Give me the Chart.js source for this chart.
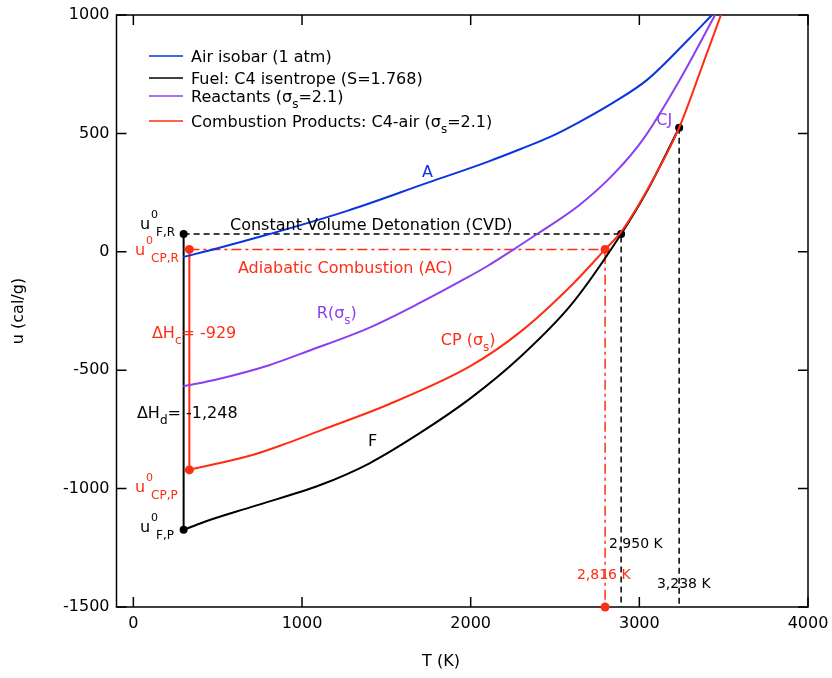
<!DOCTYPE html>
<html>
<head>
<meta charset="utf-8">
<script src="https://cdn.jsdelivr.net/npm/chart.js@4.4.0/dist/chart.umd.min.js"></script>
<style>
html, body { margin: 0; padding: 0; background: #fff; }
canvas { display: block; }
</style>
</head>
<body>
<canvas id="chart" width="832" height="678"></canvas>
<script>
// axis ticks
const xTicks = [0, 1000, 2000, 3000, 4000];
const yTicks = [-1500, -1000, -500, 0, 500, 1000];

// Air isobar (1 atm)
const airT = [296, 500, 812, 1268, 1742, 2100, 2300, 2471, 2649, 2850, 3046, 3301, 3430];
const airU = [-22, 15, 76, 173, 291, 380, 435, 485, 550, 632, 726, 904, 1000];

// Fuel: C4 isentrope
const fuelT = [298, 415, 711, 1108, 1400, 1700, 2000, 2300, 2600, 2892, 3050, 3236];
const fuelU = [-1174, -1142, -1075, -985, -893, -765, -618, -440, -220, 75, 262, 524];

// Reactants
const reacT = [296, 500, 800, 1033, 1400, 1701, 1956, 2100, 2276, 2394, 2649, 2850, 3022, 3241, 3449];
const reacU = [-568, -538, -480, -420, -320, -215, -118, -60, 20, 75, 200, 330, 475, 728, 1000];

// Combustion products
const prodT = [332, 711, 912, 1108, 1500, 2000, 2300, 2600, 2797, 2892, 3064, 3236, 3390, 3484];
const prodU = [-921, -857, -808, -755, -648, -482, -335, -140, 10, 84, 283, 524, 818, 1000];

// construction lines
const dHdT = [298, 298];         const dHdU = [75, -1174];
const dHcT = [332, 332];         const dHcU = [10, -921];
const cvdT = [298, 2892, 2892];  const cvdU = [75, 75, -1500];
const cjT = [3236, 3236];        const cjU = [524, -1500];
const acT = [332, 2797, 2797];   const acU = [10, 10, -1500];

// marked states
const blackDotT = [298, 298, 2892, 3236];
const blackDotU = [75, -1174, 75, 524];
const redDotT = [332, 332, 2797, 2797];
const redDotU = [10, -921, 10, -1500];

const BLUE = '#0b34e0';
const PURPLE = '#8c3ff0';
const RED = '#ff2d14';
const BLACK = '#000000';
const FONT = '"DejaVu Sans", sans-serif';

function pts(xs, ys) {
    return xs.map((x, i) => ({ x: x, y: ys[i] }));
}

function curve(xs, ys, color) {
    return {
        data: pts(xs, ys),
        showLine: true,
        borderColor: color,
        borderWidth: 2,
        pointRadius: 0,
        cubicInterpolationMode: 'monotone'
    };
}

function straight(xs, ys, color, dash, width) {
    return {
        data: pts(xs, ys),
        showLine: true,
        borderColor: color,
        borderWidth: width,
        borderDash: dash,
        pointRadius: 0
    };
}

function dots(xs, ys, color, r) {
    return {
        data: pts(xs, ys),
        showLine: false,
        pointRadius: r,
        pointBackgroundColor: color,
        pointBorderWidth: 0,
        clip: false
    };
}

// text drawn in the plot: anchored at (T, u), left / baseline
const notes = [
    { t: 1711, u: 316, color: BLUE, parts: [['A']] },
    { t: 3100, u: 535, color: PURPLE, parts: [['CJ']] },
    { t: 573, u: 92, color: BLACK, parts: [['Constant Volume Detonation (CVD)']] },
    { t: 620, u: -90, color: RED, parts: [['Adiabatic Combustion (AC)']] },
    { t: 1088, u: -279, color: PURPLE, parts: [['R(σ'], ['s', 'sub'], [')']] },
    { t: 110, u: -364, color: RED, parts: [['ΔH'], ['c', 'sub'], ['= -929']] },
    { t: 1823, u: -393, color: RED, parts: [['CP (σ'], ['s', 'sub'], [')']] },
    { t: 21, u: -702, color: BLACK, parts: [['ΔH'], ['d', 'sub'], ['= -1,248']] },
    { t: 1391, u: -820, color: BLACK, parts: [['F']] },
    { t: 39, u: 96, color: BLACK, parts: [['u'], ['0', 'F,R', 'stack']] },
    { t: 9, u: -14, color: RED, parts: [['u'], ['0', 'CP,R', 'stack']] },
    { t: 9, u: -1015, color: RED, parts: [['u'], ['0', 'CP,P', 'stack']] },
    { t: 39, u: -1184, color: BLACK, parts: [['u'], ['0', 'F,P', 'stack']] },
    { t: 2820, u: -1251, color: BLACK, size: 14, parts: [['2,950 K']] },
    { t: 2630, u: -1382, color: RED, size: 14, parts: [['2,816 K']] },
    { t: 3104, u: -1420, color: BLACK, size: 14, parts: [['3,238 K']] }
];

const legendRows = [
    { color: BLUE, y: 56, parts: [['Air isobar (1 atm)']] },
    { color: BLACK, y: 78, parts: [['Fuel: C4 isentrope (S=1.768)']] },
    { color: PURPLE, y: 96, parts: [['Reactants (σ'], ['s', 'sub'], ['=2.1)']] },
    { color: RED, y: 121, parts: [['Combustion Products: C4-air (σ'], ['s', 'sub'], ['=2.1)']] }
];

function drawRich(ctx, x, y, parts, color, size) {
    size = size || 16;
    ctx.fillStyle = color;
    ctx.textAlign = 'left';
    ctx.textBaseline = 'alphabetic';
    let cx = x;
    parts.forEach(p => {
        if (p[1] === 'sub') {
            ctx.font = '12px ' + FONT;
            ctx.fillText(p[0], cx, y + 6);
            cx += ctx.measureText(p[0]).width;
        } else if (p[2] === 'stack') {
            ctx.font = '11px ' + FONT;
            ctx.fillText(p[0], cx + 1, y - 11);
            const w1 = ctx.measureText(p[0]).width + 1;
            ctx.font = '12px ' + FONT;
            ctx.fillText(p[1], cx + 6, y + 7);
            const w2 = ctx.measureText(p[1]).width + 6;
            cx += Math.max(w1, w2);
        } else {
            ctx.font = size + 'px ' + FONT;
            ctx.fillText(p[0], cx, y);
            cx += ctx.measureText(p[0]).width;
        }
    });
}

const frame = {
    id: 'frame',
    beforeDatasetsDraw(chart) {
        const ctx = chart.ctx;
        const a = chart.chartArea;
        const xs = chart.scales.x, ys = chart.scales.y;
        ctx.save();
        ctx.strokeStyle = BLACK;
        ctx.lineWidth = 1.5;
        ctx.strokeRect(a.left, a.top, a.right - a.left, a.bottom - a.top);
        ctx.beginPath();
        xTicks.forEach(v => {
            const px = xs.getPixelForValue(v);
            ctx.moveTo(px, a.bottom); ctx.lineTo(px, a.bottom - 10);
            ctx.moveTo(px, a.top); ctx.lineTo(px, a.top + 10);
        });
        yTicks.forEach(v => {
            const py = ys.getPixelForValue(v);
            ctx.moveTo(a.left, py); ctx.lineTo(a.left + 10, py);
            ctx.moveTo(a.right, py); ctx.lineTo(a.right - 10, py);
        });
        ctx.stroke();
        ctx.restore();
    },
    afterDatasetsDraw(chart) {
        const ctx = chart.ctx;
        const xs = chart.scales.x, ys = chart.scales.y;
        ctx.save();
        notes.forEach(n => {
            drawRich(ctx, xs.getPixelForValue(n.t), ys.getPixelForValue(n.u), n.parts, n.color, n.size);
        });

        // legend
        legendRows.forEach(r => {
            ctx.strokeStyle = r.color;
            ctx.lineWidth = 1.5;
            ctx.beginPath();
            ctx.moveTo(149, r.y);
            ctx.lineTo(183, r.y);
            ctx.stroke();
            drawRich(ctx, 191, r.y + 6, r.parts, BLACK, 16);
        });

        // axis titles
        ctx.fillStyle = BLACK;
        ctx.font = '16px ' + FONT;
        ctx.textAlign = 'center';
        ctx.textBaseline = 'middle';
        ctx.fillText('T (K)', 441, 662);
        ctx.translate(19, 311);
        ctx.rotate(-Math.PI / 2);
        ctx.fillText('u (cal/g)', 0, 0);
        ctx.restore();
    }
};

new Chart(document.getElementById('chart'), {
    type: 'scatter',
    data: {
        datasets: [
            curve(airT, airU, BLUE),
            curve(reacT, reacU, PURPLE),
            curve(prodT, prodU, RED),
            curve(fuelT, fuelU, BLACK),
            straight(dHdT, dHdU, BLACK, [], 2),
            straight(dHcT, dHcU, RED, [], 2),
            straight(cvdT, cvdU, BLACK, [6, 4], 1.5),
            straight(cjT, cjU, BLACK, [6, 4], 1.5),
            straight(acT, acU, RED, [10, 4, 3, 4], 1.5),
            dots(blackDotT, blackDotU, BLACK, 4),
            dots(redDotT, redDotU, RED, 4.5)
        ]
    },
    options: {
        responsive: false,
        devicePixelRatio: 1,
        animation: false,
        events: [],
        layout: { padding: { top: 15, right: 24, left: 0, bottom: 0 } },
        plugins: {
            legend: { display: false },
            tooltip: { enabled: false }
        },
        scales: {
            x: {
                type: 'linear',
                min: -100,
                max: 4000,
                afterBuildTicks: s => { s.ticks = xTicks.map(v => ({ value: v })); },
                afterFit: s => { s.height = 71; s.paddingRight = 0; s.paddingLeft = 0; },
                grid: { display: false, drawTicks: false },
                border: { display: false },
                ticks: { color: BLACK, font: { family: FONT, size: 16 }, padding: 7, maxRotation: 0,
                         callback: v => String(v) }
            },
            y: {
                type: 'linear',
                min: -1500,
                max: 1000,
                afterBuildTicks: s => { s.ticks = yTicks.map(v => ({ value: v })); },
                afterFit: s => { s.width = 116.5; s.paddingTop = 0; s.paddingBottom = 0; },
                grid: { display: false, drawTicks: false },
                border: { display: false },
                ticks: { color: BLACK, font: { family: FONT, size: 16 }, padding: 7,
                         callback: v => String(v) }
            }
        }
    },
    plugins: [frame]
});
</script>
</body>
</html>
